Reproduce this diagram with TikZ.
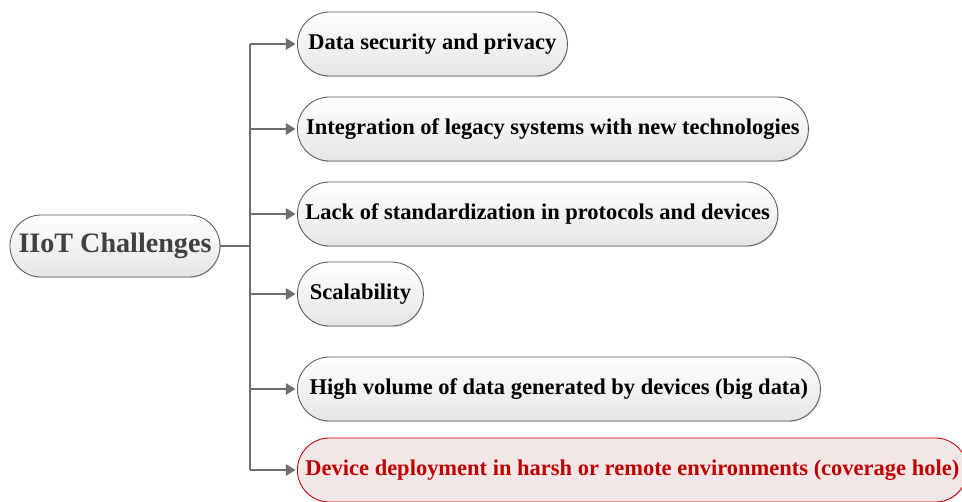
\documentclass[tikz,border=0pt]{standalone}
\usepackage{fontspec}
\setmainfont{Liberation Serif}
\usetikzlibrary{shapes.misc,shadows,arrows.meta}
\definecolor{linkgray}{HTML}{6E6E6E}
\definecolor{boxline}{HTML}{5A5A5A}
\definecolor{alertred}{HTML}{C00000}
\definecolor{alertfill}{HTML}{F3E6E6}
\tikzset{
  challenge/.style={rectangle, rounded corners=0.8cm, draw=boxline, line width=0.6pt,
    top color=white, bottom color=black!10, minimum height=1.6cm, anchor=west,
    font=\fontsize{16}{18}\selectfont\bfseries, inner xsep=0.2cm,
    drop shadow={shadow xshift=0.6pt, shadow yshift=-0.8pt, opacity=0.25}},
  alert/.style={draw=alertred, top color=alertfill, bottom color=alertfill, text=alertred},
  link/.style={draw=linkgray, line width=2.1pt},
  arr/.style={link, -{Triangle[length=7pt,width=8pt]}, shorten >=1pt}
}
\begin{document}
\begin{tikzpicture}
	\useasboundingbox (0,0) rectangle (24.05,-12.525);
	\node[challenge, anchor=center, rounded corners=0.775cm, minimum width=5.25cm, minimum height=1.55cm,
	  font=\fontsize{20}{24}\selectfont\bfseries, text=black!75] (root) at (2.875,-6.15) {IIoT Challenges};
	\node[challenge, minimum width=6.75cm] (b1) at (7.425,-1.1) {Data security and privacy};
	\node[challenge, minimum width=12.775cm] (b2) at (7.425,-3.225) {Integration of legacy systems with new technologies};
	\node[challenge, minimum width=11.9cm] (b3) at (7.425,-5.35) {Lack of standardization in protocols and devices};
	\node[challenge, minimum width=3.15cm] (b4) at (7.425,-7.35) {Scalability};
	\node[challenge, minimum width=13.075cm] (b5) at (7.425,-9.725) {High volume of data generated by devices (big data)};
	\node[challenge, alert, minimum width=16.7cm] (b6) at (7.425,-11.75) {Device deployment in harsh or remote environments (coverage hole)};
	% trunk of the tree
	\coordinate (trunk) at (6.25,0);
	\draw[link] (root.east) -- (trunk |- root.east);
	\draw[link] (trunk |- b1.west) -- (trunk |- b6.west);
	\foreach \b in {b1,b2,b3,b4,b5,b6}
		\draw[arr] (trunk |- \b.west) -- (\b.west);
\end{tikzpicture}
\end{document}
